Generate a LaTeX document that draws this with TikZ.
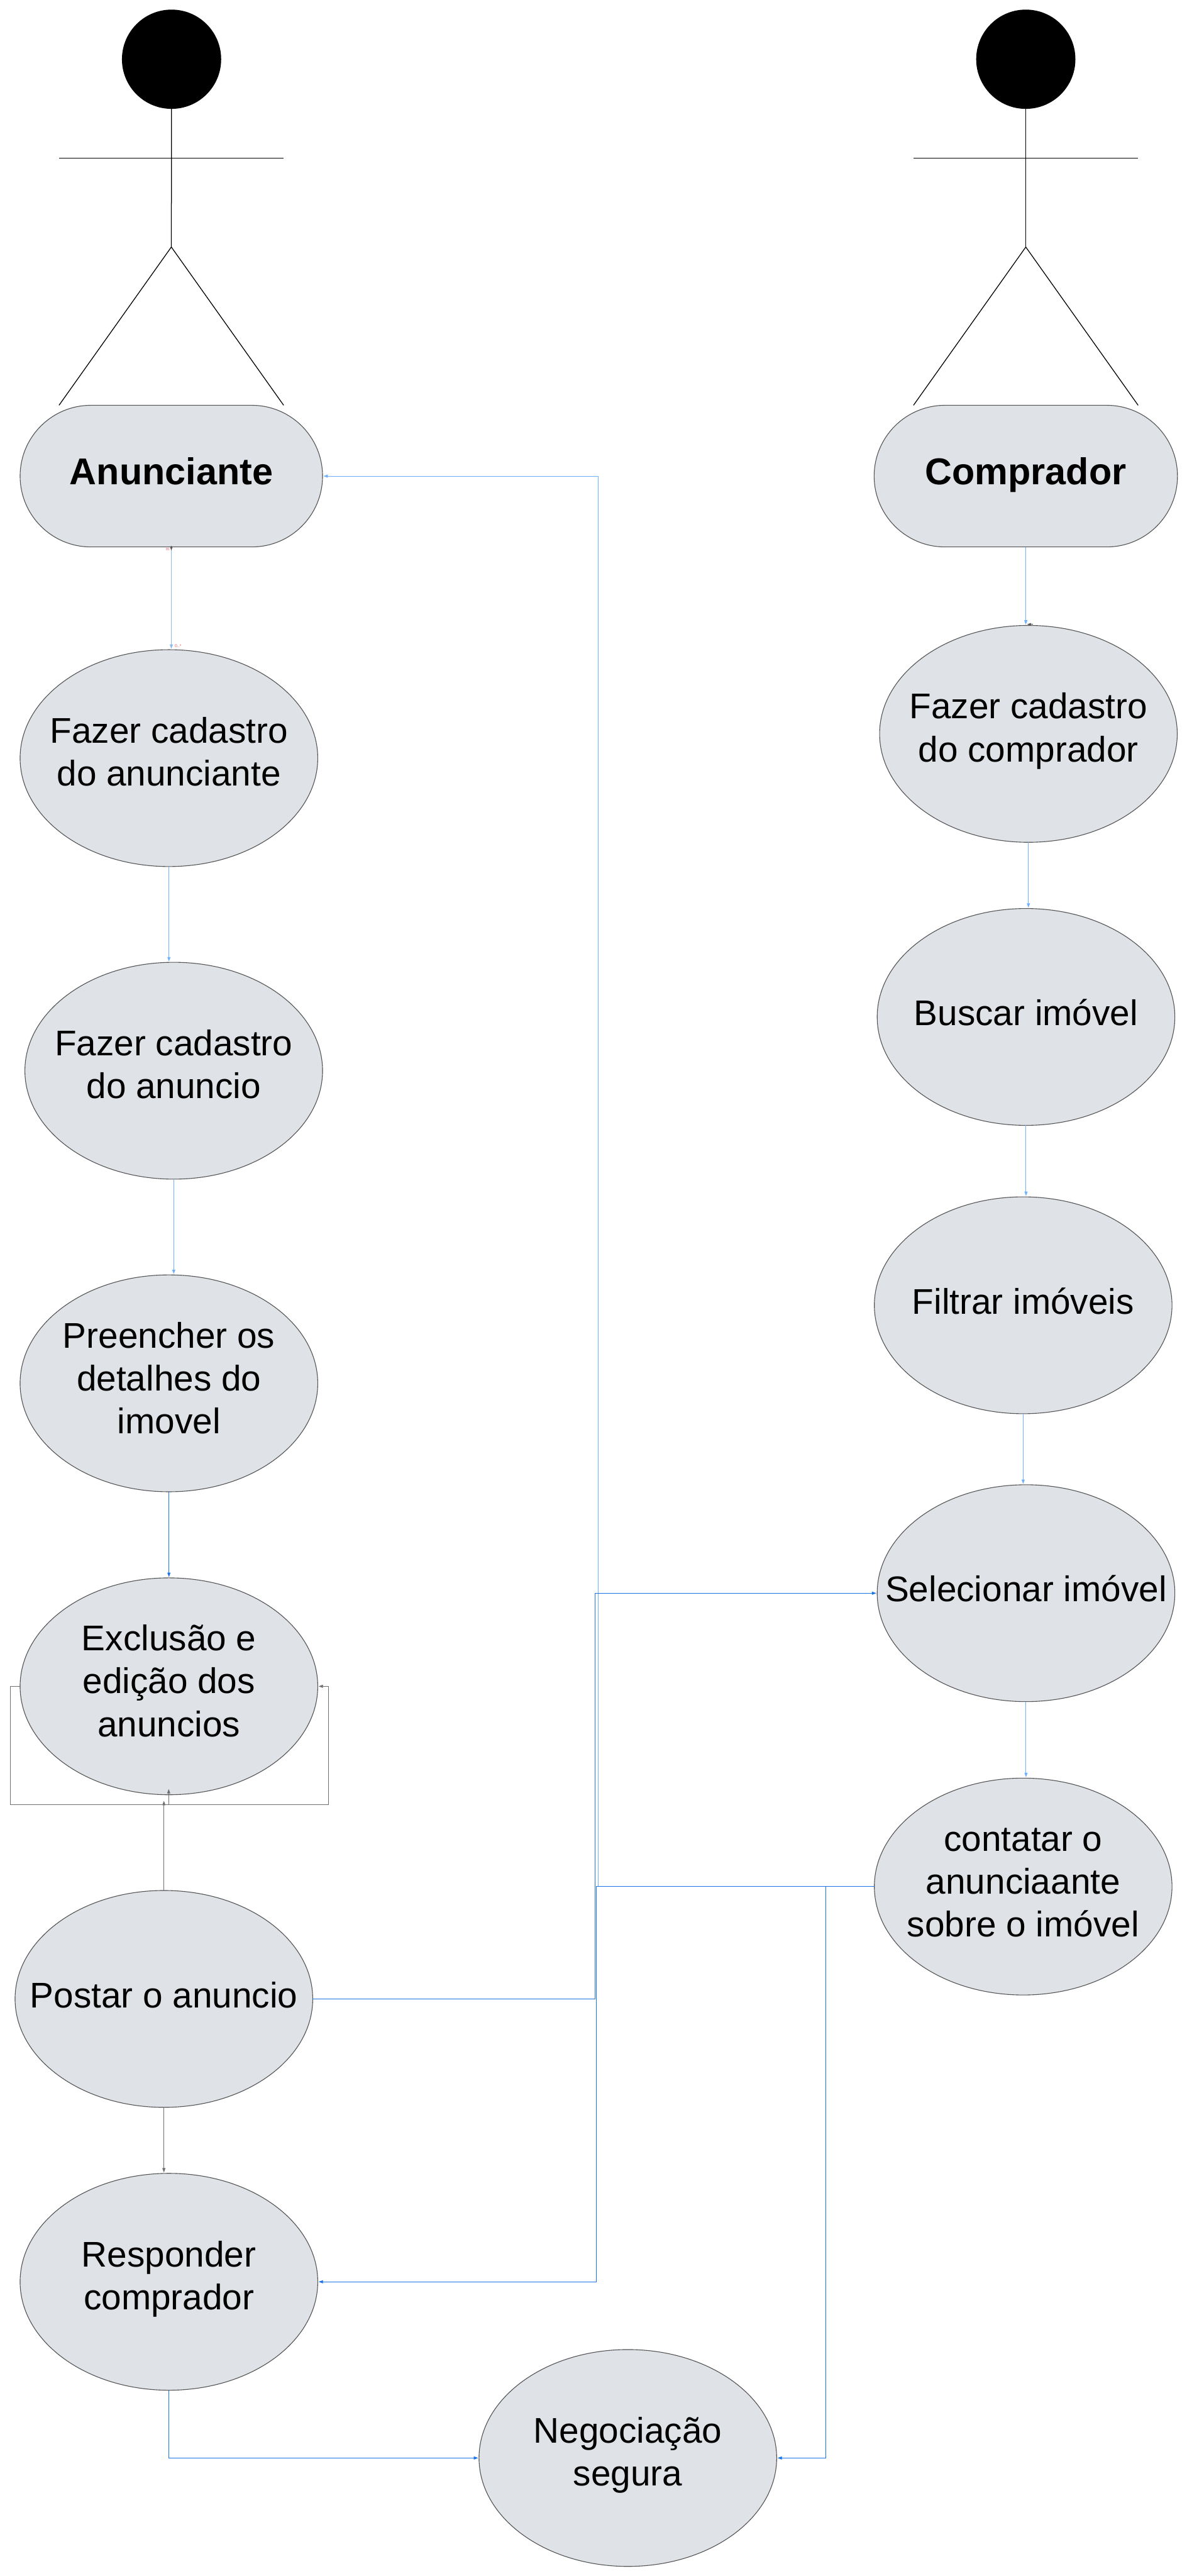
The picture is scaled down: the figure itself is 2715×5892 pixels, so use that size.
\documentclass[tikz,border=0pt]{standalone}
\usepackage{fontspec}
\setmainfont{Liberation Sans}
\usetikzlibrary{arrows.meta,shapes.geometric}
\definecolor{ucfill}{HTML}{DFE3E8}
\definecolor{ucline}{HTML}{555555}
\definecolor{lightblue}{HTML}{6DB1FF}
\definecolor{strongblue}{HTML}{1A73E8}
\definecolor{wiregray}{HTML}{6F6F6F}
\definecolor{headgray}{HTML}{555555}
\definecolor{palelight}{HTML}{8FBCF0}
\definecolor{tagred}{HTML}{FF6666}
\newcommand{\uctext}[2]{\makebox[0pt]{\smash{\raisebox{#1}{\begin{tabular}{@{}c@{}}#2\end{tabular}}}}}
\tikzset{
  x=0.5pt,y=-0.5pt,
  usecase/.style={ellipse,draw=ucline,fill=ucfill,line width=0.8pt,inner sep=0pt,outer sep=0pt,
    minimum width=340.5pt,minimum height=248pt,font=\fontsize{40.8}{49}\selectfont},
  actorbox/.style={rectangle,rounded corners=81pt,draw=ucline,fill=ucfill,line width=0.8pt,inner sep=0pt,outer sep=0pt,
    font=\fontsize{42.7}{49}\selectfont\bfseries},
  head/.style={circle,fill=black,inner sep=0pt,outer sep=0pt,minimum size=113.5pt},
  limb/.style={draw=black,line width=0.9pt},
  flowlight/.style={draw=lightblue,line width=0.7pt,-{Triangle[length=5pt,width=3.5pt]},shorten >=1pt},
  flowstrong/.style={draw=strongblue,line width=0.7pt,-{Triangle[length=5pt,width=3.5pt]},shorten >=1pt},
  flowgray/.style={draw=wiregray,line width=0.6pt,-{Triangle[length=5pt,width=3.5pt]},shorten >=1pt},
  stubtip/.style={draw=headgray,line width=0.4pt,-{Triangle[length=4.5pt,width=3pt]}},
  tag/.style={text=tagred,font=\fontsize{5}{6}\selectfont,inner sep=0pt},
}
\begin{document}
\begin{tikzpicture}
\useasboundingbox (0,0) rectangle (2715,5892);
\fill[white] (0,0) rectangle (2715,5892);

% actors
\node[head] (h1) at (392.5,135.5) {};
\coordinate (hip1) at (392,565);
\coordinate (la1) at (135,362);
\coordinate (ra1) at (649,362);
\coordinate (lf1) at (135,927);
\coordinate (rf1) at (649,927);
\draw[limb] (h1.south) -- (hip1);
\draw[limb] (la1) -- (ra1);
\draw[limb] (lf1) -- (hip1) -- (rf1);

\node[head] (h2) at (2347,135.5) {};
\coordinate (hip2) at (2347,565);
\coordinate (la2) at (2090,362);
\coordinate (ra2) at (2604,362);
\coordinate (lf2) at (2090,927);
\coordinate (rf2) at (2604,927);
\draw[limb] (h2.south) -- (hip2);
\draw[limb] (la2) -- (ra2);
\draw[limb] (lf2) -- (hip2) -- (rf2);

% boxes
\node[actorbox,minimum width=346pt,minimum height=162pt] (an) at (392,1089) {\uctext{-6.25pt}{Anunciante}};
\node[actorbox,minimum width=347pt,minimum height=162pt] (cp) at (2347,1089) {\uctext{-6.25pt}{Comprador}};

% left column
\node[usecase] (fa) at (386.5,1734) {\uctext{-3.7pt}{Fazer cadastro\\do anunciante}};
\node[usecase] (fn) at (397.5,2449) {\uctext{-3.7pt}{Fazer cadastro\\do anuncio}};
\node[usecase] (pd) at (386.5,3164) {\uctext{-4.75pt}{Preencher os\\detalhes do\\imovel}};
\node[usecase] (ex) at (386.5,3857) {\uctext{-4.75pt}{Exclusão e\\edição dos\\anuncios}};
\node[usecase] (po) at (375,4572) {\uctext{-6.25pt}{Postar o anuncio}};
\node[usecase] (re) at (386.5,5219) {\uctext{-3.7pt}{Responder\\comprador}};
\node[usecase] (ng) at (1436.5,5622) {\uctext{-3.7pt}{Negociação\\segura}};

% right column
\node[usecase] (fc) at (2353,1678.5) {\uctext{-3.7pt}{Fazer cadastro\\do comprador}};
\node[usecase] (bi) at (2347.5,2326) {\uctext{-6.25pt}{Buscar imóvel}};
\node[usecase] (fi) at (2341,2985.5) {\uctext{-6.25pt}{Filtrar imóveis}};
\node[usecase] (se) at (2347.5,3644) {\uctext{-6.25pt}{Selecionar imóvel}};
\node[usecase] (ct) at (2341,4315) {\uctext{-4.75pt}{contatar o\\anunciaante\\sobre o imóvel}};

% waypoints
\coordinate (v1a) at (1369,4315);
\coordinate (v1b) at (1369,1089);
\coordinate (v2) at (1364,4315);
\coordinate (v3) at (1889,4315);
\coordinate (v4) at (1361,4000);
\coordinate (loopl) at (23.5,4127);
\coordinate (loopr) at (751,4127);
\coordinate (loopt) at (386,4127);
\coordinate (loopi) at (386,4090);
\coordinate (pohit) at (375,4117);
\coordinate (stubatop) at (392,1248);
\coordinate (stubabot) at (392,1259);
\coordinate (stubcr) at (2364,1428);
\coordinate (stubcl) at (2350,1428);

% left flow
\draw[flowlight,draw=palelight] (an.south) -- (an.south |- fa.north);
\draw[stubtip] (stubatop) -- (stubabot);
\draw[flowlight] (fa.south) -- (fa.south |- fn.north);
\draw[flowlight,line width=0.9pt] (fn.south) -- (fn.south |- pd.north);
\draw[flowstrong] (pd.south) -- (pd.south |- ex.north);
\draw[flowgray] (ex.west) -- (loopl |- ex.west) -- (loopl) -- (loopr) -- (loopr |- ex.east) -- (ex.east);
\draw[flowgray] (loopt) -- (loopi);
\draw[flowgray] (po.north) -- (pohit);
\draw[flowgray] (po.south) -- (po.south |- re.north);
\draw[flowstrong] (re.south) |- (ng.west);

% right flow
\draw[flowlight] (cp.south) -- (cp.south |- fc.north);
\draw[stubtip] (stubcr) -- (stubcl);
\draw[flowlight] (fc.south) -- (fc.south |- bi.north);
\draw[flowlight] (bi.south) -- (bi.south |- fi.north);
\draw[flowlight] (fi.south) -- (fi.south |- se.north);
\draw[flowlight] (se.south) -- (se.south |- ct.north);

% long routes
\draw[flowlight] (ct.west) -- (v1a) -- (v1b) -- (an.east);
\draw[flowstrong] (ct.west) -- (v2) |- (re.east);
\draw[flowstrong] (ct.west) -- (v3) |- (ng.east);
\draw[flowstrong] (po.east) -| (v4) |- (se.west);

% multiplicity tags
\node[tag] (t1) at (383.5,1257) {m};
\node[tag] (t2) at (407.5,1478) {0..*};
\end{tikzpicture}
\end{document}
